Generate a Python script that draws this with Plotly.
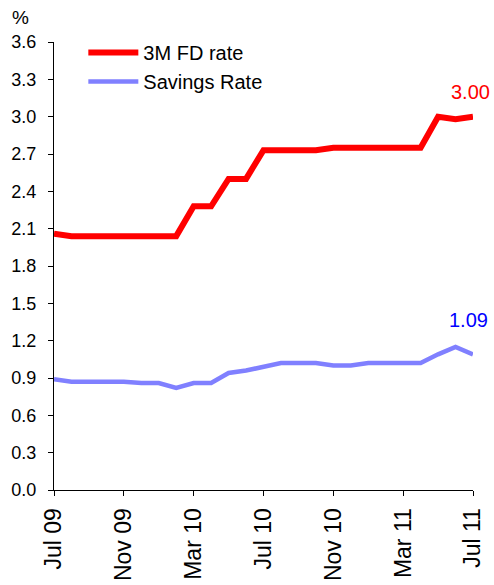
import plotly.graph_objects as go

months = ["Jul 09", "Aug 09", "Sep 09", "Oct 09", "Nov 09", "Dec 09", "Jan 10", "Feb 10",
          "Mar 10", "Apr 10", "May 10", "Jun 10", "Jul 10", "Aug 10", "Sep 10", "Oct 10",
          "Nov 10", "Dec 10", "Jan 11", "Feb 11", "Mar 11", "Apr 11", "May 11", "Jun 11", "Jul 11"]
fd_rate = [2.06, 2.04, 2.04, 2.04, 2.04, 2.04, 2.04, 2.04, 2.28, 2.28, 2.50, 2.50, 2.73,
           2.73, 2.73, 2.73, 2.75, 2.75, 2.75, 2.75, 2.75, 2.75, 3.00, 2.98, 3.00]
savings_rate = [0.89, 0.87, 0.87, 0.87, 0.87, 0.86, 0.86, 0.82, 0.86, 0.86, 0.94, 0.96, 0.99,
                1.02, 1.02, 1.02, 1.00, 1.00, 1.02, 1.02, 1.02, 1.02, 1.09, 1.15, 1.09]
x_ticks = ["Jul 09", "Nov 09", "Mar 10", "Jul 10", "Nov 10", "Mar 11", "Jul 11"]
y_ticks = [0.0, 0.3, 0.6, 0.9, 1.2, 1.5, 1.8, 2.1, 2.4, 2.7, 3.0, 3.3, 3.6]

FONT = "Liberation Sans, Arial, sans-serif"

fig = go.Figure()
fig.add_trace(go.Scatter(x=months, y=fd_rate, mode="lines", name="3M FD rate",
                         line=dict(color="#FF0000", width=6)))
fig.add_trace(go.Scatter(x=months, y=savings_rate, mode="lines", name="Savings Rate",
                         line=dict(color="#8080FF", width=4.5)))

fig.add_annotation(x=months[-1], y=fd_rate[-1], text=f"{fd_rate[-1]:.2f}", showarrow=False,
                   xanchor="center", yanchor="middle", yshift=25, xshift=-3,
                   font=dict(color="#FF0000", size=20, family=FONT))
fig.add_annotation(x=months[-1], y=savings_rate[-1], text=f"{savings_rate[-1]:.2f}", showarrow=False,
                   xanchor="center", yanchor="middle", yshift=34, xshift=-5,
                   font=dict(color="#0000FF", size=20, family=FONT))
fig.add_annotation(xref="paper", yref="paper", x=-0.0788, y=1.0558, text="%", showarrow=False,
                   xanchor="center", yanchor="middle",
                   font=dict(color="#000000", size=19, family=FONT))

fig.update_layout(
    width=494, height=585,
    margin=dict(l=54, r=21, t=42, b=95, autoexpand=False),
    paper_bgcolor="white", plot_bgcolor="white",
    font=dict(family=FONT, size=18, color="#000000"),
    showlegend=True,
    legend=dict(x=0.07, y=1.02, xanchor="left", yanchor="top", bgcolor="rgba(0,0,0,0)",
                font=dict(size=20, family=FONT), itemwidth=50),
    xaxis=dict(type="category", range=[0, len(months) - 1], tickmode="array", tickvals=x_ticks,
               ticktext=x_ticks, tickangle=-90, showgrid=False, zeroline=False,
               showline=True, linecolor="#000000", linewidth=1, automargin=False,
               ticks="outside", ticklen=5, tickcolor="#000000",
               tickfont=dict(size=23, family=FONT), ticklabelstandoff=3),
    yaxis=dict(range=[0, 3.6], tickmode="array", tickvals=y_ticks,
               ticktext=[f"{v:.1f}" for v in y_ticks], showgrid=False, zeroline=False,
               showline=True, linecolor="#000000", linewidth=1, automargin=False,
               ticks="outside", ticklen=5, tickcolor="#000000",
               tickfont=dict(size=18, family=FONT), ticklabelstandoff=8),
)

fig.write_html("out.html", config={"displayModeBar": False},
               post_script="document.body.style.margin='0';document.body.style.overflow='hidden';")
